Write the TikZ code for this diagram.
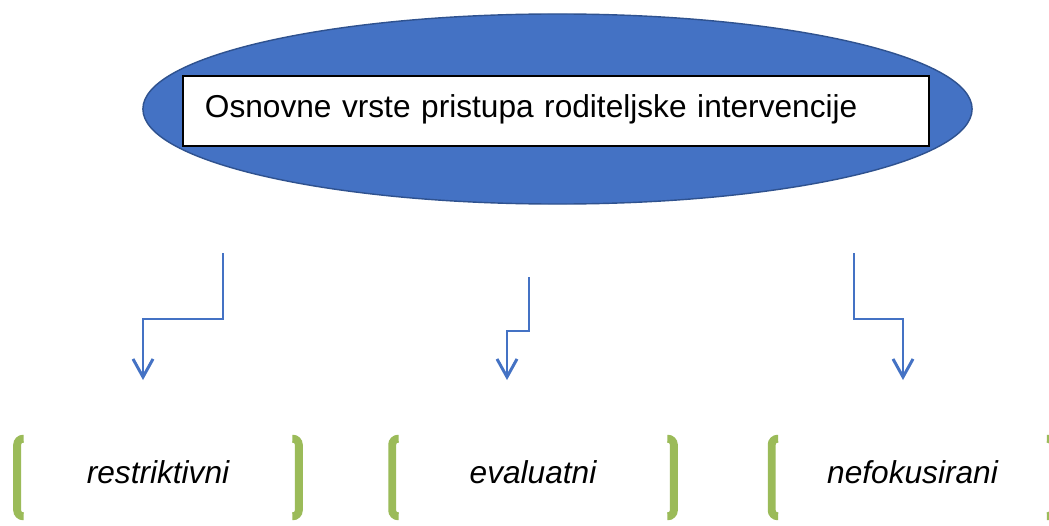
\documentclass[tikz,border=0pt]{standalone}
\usepackage{fontspec}
\setmainfont{Liberation Sans}
\usetikzlibrary{shapes.geometric,arrows.meta}
\definecolor{ovalblue}{HTML}{4472C4}
\definecolor{ovaledge}{HTML}{2F528F}
\definecolor{brackgreen}{HTML}{9BBB59}
\begin{document}
\begin{tikzpicture}[x=0.025cm, y=-0.025cm,
    oval/.style={ellipse, fill=ovalblue, draw=ovaledge, line width=1pt,
      minimum width=20.725cm, minimum height=4.75cm, inner sep=0pt},
    titlebox/.style={rectangle, draw=black, fill=white, line width=1.2pt,
      minimum height=1.75cm, text width=17.55cm, inner xsep=0.55cm, inner ysep=0pt,
      align=left, text height=0.6cm, text depth=0.3cm,
      font=\fontsize{22.5}{27}\selectfont},
    kind/.style={minimum width=7.025cm, minimum height=1.925cm, inner sep=0pt,
      text height=0.6cm, text depth=0.325cm,
      font=\fontsize{22.5}{27}\selectfont\itshape},
    brk/.style={brackgreen, line width=5.6pt, rounded corners=0.15cm},
    conn/.style={ovalblue, line width=2.1pt,
      -{Straight Barb[length=0.45cm, width=0.5cm, line width=2.1pt]}}]
  \clip (0,0) rectangle (1049,525);
  \fill[white] (0,0) rectangle (1049,525);

  \node[oval] (root) at (557.5,109) {};
  \node[titlebox] (title) at (556,111) {Osnovne vrste pristupa roditeljske intervencije};

  % the three kinds, each between green brackets
  \node[kind] (restr) at (158,477.5) {restriktivni};
  \node[kind] (evalu) at (533,477.5) {evaluatni};
  \node[kind] (nefok) at (912.5,477.5) {nefokusirani};
  \foreach \n in {restr,evalu,nefok} {
    \draw[brk] ([xshift=0.16cm]\n.north west) -- (\n.north west)
      -- (\n.south west) -- ([xshift=0.16cm]\n.south west);
    \draw[brk] ([xshift=-0.16cm]\n.north east) -- (\n.north east)
      -- (\n.south east) -- ([xshift=-0.16cm]\n.south east);
  }

  % elbow arrows
  \coordinate (restrOut) at (223,253);
  \coordinate (restrIn) at (143,380);
  \coordinate (evaluOut) at (529,277);
  \coordinate (evaluIn) at (507,380);
  \coordinate (nefokOut) at (854,253);
  \coordinate (nefokIn) at (903,380);
  \draw[conn] (restrOut) -- ++(0,66) -| (restrIn);
  \draw[conn] (evaluOut) -- ++(0,54) -| (evaluIn);
  \draw[conn] (nefokOut) -- ++(0,66) -| (nefokIn);
\end{tikzpicture}
\end{document}
